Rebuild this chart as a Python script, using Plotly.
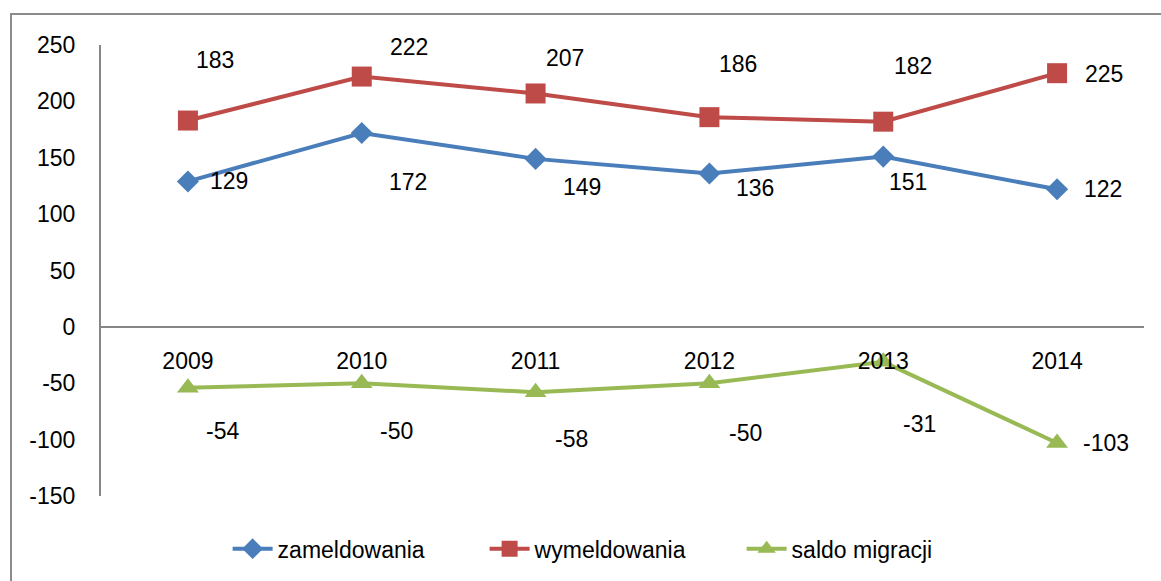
import plotly.graph_objects as go

years = ["2009", "2010", "2011", "2012", "2013", "2014"]
zameldowania = [129, 172, 149, 136, 151, 122]
wymeldowania = [183, 222, 207, 186, 182, 225]
saldo_migracji = [-54, -50, -58, -50, -31, -103]

y_ticks = [250, 200, 150, 100, 50, 0, -50, -100, -150]
y_tick_text = [str(v) for v in y_ticks]

# label offsets in px (dx right, dy down) relative to each point
off_zam = [(41, 0), (46, 49), (46, 28), (46, 14), (25, 25), (46, 0)]
off_wym = [(27, -61), (47, -30), (29, -35), (29, -53), (30, -56), (47, 1)]
off_sal = [(35, 43), (35, 48), (36, 47), (36, 50), (36, 62), (49, 0)]

FONT = "Liberation Sans"
FS = 23
fig = go.Figure()

series = [
    ("zameldowania", zameldowania, "#4A7EBB", "diamond", 17, off_zam),
    ("wymeldowania", wymeldowania, "#BE4B48", "square", 20, off_wym),
    ("saldo migracji", saldo_migracji, "#98B954", "triangle-up", 19, off_sal),
]

annotations = []
for name, vals, col, sym, size, offs in series:
    fig.add_trace(go.Scatter(
        x=years, y=vals, name=name, mode="lines+markers",
        line=dict(color=col, width=4),
        marker=dict(symbol=sym, size=size, color=col),
        cliponaxis=False,
    ))
    for i, (yv, (dx, dy)) in enumerate(zip(vals, offs)):
        annotations.append(dict(xref="x", yref="y", x=i, y=yv, text=str(yv),
                                showarrow=False, xshift=dx, yshift=-dy,
                                xanchor="center", yanchor="middle",
                                font=dict(family=FONT, size=FS, color="#000000")))

fig.update_layout(
    width=1161, height=581,
    margin=dict(l=101, r=17, t=45, b=85, autoexpand=False),
    paper_bgcolor="white", plot_bgcolor="white",
    font=dict(family=FONT, size=FS, color="#000000"),
    showlegend=True,
    annotations=annotations,
    legend=dict(orientation="h", x=0.491, xanchor="center", y=-0.117, yanchor="middle",
                font=dict(family=FONT, size=FS), entrywidth=202, itemwidth=40),
    xaxis=dict(type="category", range=[-0.5, 5.5], anchor="free", position=0.375,
               showline=True, linecolor="#868686", linewidth=2, showgrid=False,
               zeroline=False, ticks="", ticklabelstandoff=14),
    yaxis=dict(range=[-150, 250], tickvals=y_ticks, ticktext=y_tick_text, showline=True,
               linecolor="#868686", linewidth=2, showgrid=False, zeroline=False, ticks="",
               ticklabelstandoff=19),
    shapes=[dict(type="rect", xref="paper", yref="paper",
                 x0=(11 - 101) / 1043, x1=(1175 - 101) / 1043,
                 y0=(496 - 595) / 451, y1=(496 - 14) / 451,
                 line=dict(color="#8C8C8C", width=2), fillcolor="rgba(0,0,0,0)", layer="below")],
)

fig.write_html("out.html", config={"displayModeBar": False},
               post_script="document.body.style.margin='0';")
